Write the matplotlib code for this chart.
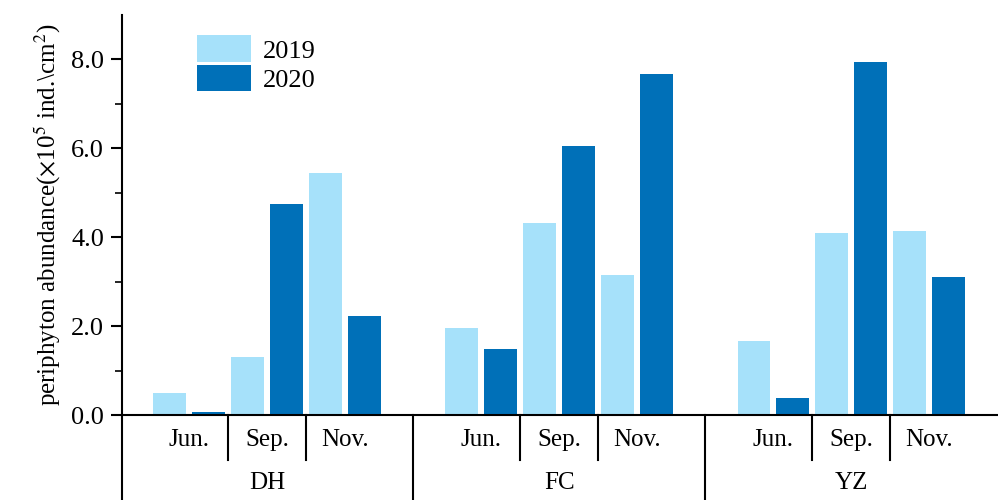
import numpy as np
import matplotlib.pyplot as plt
import matplotlib.transforms as mtransforms

plt.rcParams['font.family'] = ['Liberation Serif', 'DejaVu Serif']
plt.rcParams['mathtext.fontset'] = 'stix'

# data
sites = ['DH', 'FC', 'YZ']
months = ['Jun.', 'Sep.', 'Nov.']
abund_2019 = [0.50, 1.30, 5.45, 1.96, 4.32, 3.15, 1.67, 4.10, 4.14]
abund_2020 = [0.07, 4.75, 2.23, 1.49, 6.06, 7.68, 0.38, 7.95, 3.11]

c2019 = '#A6E1FA'
c2020 = '#0070B8'

group_step = 3.75
x = np.array([g * group_step + m for g in range(len(sites)) for m in range(len(months))])

fig = plt.figure(figsize=(9.98, 5), dpi=100)
ax = fig.add_axes([122 / 998, 0.17, 875 / 998, 0.80])

w = 0.42
ax.bar(x - 0.25, abund_2019, width=w, color=c2019, label='2019')
ax.bar(x + 0.25, abund_2020, width=w, color=c2020, label='2020')

ax.set_xlim(x[0] - 0.86, x[-1] + 0.87)
ax.set_ylim(0, 9)
ax.set_yticks([0, 2, 4, 6, 8])
ax.set_yticklabels(['%.1f' % v for v in [0, 2, 4, 6, 8]], fontsize=19)
ax.set_yticks([1, 3, 5, 7], minor=True)
ax.tick_params(axis='y', which='major', direction='out', length=8, width=1.5, pad=5)
ax.tick_params(axis='y', which='minor', direction='out', length=5, width=1.2)
ax.set_xticks([])

ax.spines['top'].set_visible(False)
ax.spines['right'].set_visible(False)
ax.spines['left'].set_linewidth(1.5)
ax.spines['bottom'].set_linewidth(1.5)

ax.set_ylabel(r'periphyton abundance($\times$10$^{5}$ ind.\cm$^{2}$)', fontsize=18, labelpad=6)

# category table below the axis
trans = mtransforms.blended_transform_factory(ax.transData, ax.transAxes)
x0 = x[0] - 0.86
ax.plot([x0, x0], [0, -0.22], color='black', lw=1.5, transform=trans, clip_on=False)
for g in range(len(sites)):
    base = g * group_step
    for m in range(len(months)):
        ax.text(base + m, -0.0625, months[m], transform=trans, ha='center', va='center', fontsize=18)
    for s in [0.5, 1.5]:
        ax.plot([base + s, base + s], [0, -0.1125], color='black', lw=1.5, transform=trans, clip_on=False)
    ax.text(base + 1, -0.17, sites[g], transform=trans, ha='center', va='center', fontsize=18)
    if g < len(sites) - 1:
        sep = base + 2 + (group_step - 2) / 2
        ax.plot([sep, sep], [0, -0.22], color='black', lw=1.5, transform=trans, clip_on=False)

ax.legend(loc='upper left', bbox_to_anchor=(0.065, 0.995), frameon=False, fontsize=19,
          handlelength=2.05, handleheight=1.15, labelspacing=0.08, handletextpad=0.45,
          borderaxespad=0.3)

fig.savefig('out.png', dpi=100)
